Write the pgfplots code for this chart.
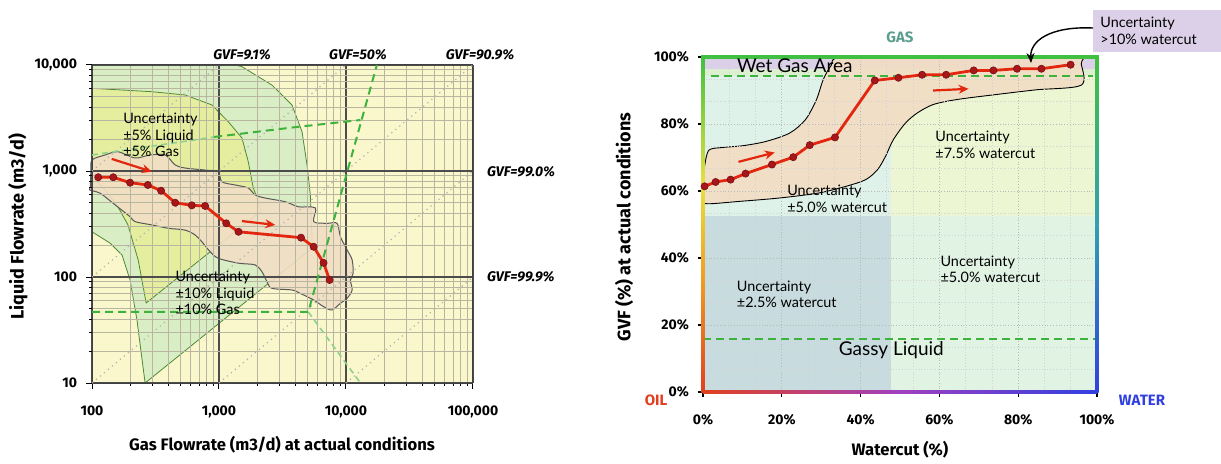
\documentclass[border=0pt]{standalone}
\usepackage{pgfplots}
\pgfplotsset{compat=1.18}
\usepackage{fontspec}
\setmainfont{Lato}
\newfontfamily\heavy{Fira Sans}
\usetikzlibrary{arrows.meta}

\definecolor{bgy}{HTML}{FAF7CC}
\definecolor{og}{HTML}{D9EEC4}
\definecolor{ig}{HTML}{E4EE9E}
\definecolor{tanb}{HTML}{F2DEC4}
\definecolor{gridg}{HTML}{B8B6A0}
\definecolor{redl}{HTML}{E3260E}
\definecolor{redm}{HTML}{A8161A}
\definecolor{dgreen}{HTML}{3DB23D}
\definecolor{lgreen}{HTML}{8FD08F}
\definecolor{edgeg}{HTML}{4E8A34}
\definecolor{regA}{HTML}{C8DCE0}
\definecolor{regB}{HTML}{DEF2EA}
\definecolor{regC}{HTML}{EDF6D3}
\definecolor{regD}{HTML}{E1F4E4}
\definecolor{lav}{HTML}{DCD0E8}
\definecolor{band}{HTML}{DCEFD0}
\definecolor{bred}{HTML}{E04020}
\definecolor{borange}{HTML}{F0A020}
\definecolor{byellow}{HTML}{E8E040}
\definecolor{bgreen}{HTML}{40C040}
\definecolor{bteal}{HTML}{30A0B0}
\definecolor{bblue}{HTML}{3040E0}
\definecolor{bpurple}{HTML}{A040C0}
\definecolor{gastxt}{HTML}{5A9E8E}

\newcommand\tl{\heavy\bfseries\fontsize{7}{8}\selectfont}
\newcommand\ann{\fontsize{7.2}{8.3}\selectfont}
\newcommand\lab{\heavy\bfseries\fontsize{8.3}{9}\selectfont}
\newcommand\ylab{\heavy\bfseries\fontsize{9}{10}\selectfont}

\begin{document}
\begin{tikzpicture}[x=0.5pt,y=0.5pt]

% ---------------- LEFT CHART ----------------
\begin{axis}[
  at={(46pt,40pt)}, anchor=south west, scale only axis,
  width=190.5pt, height=159pt,
  xmode=log, ymode=log, xmin=100, xmax=100000, ymin=10, ymax=10000,
  set layers,
  grid=both,
  major grid style={draw=black!70, line width=0.55pt},
  minor grid style={draw=gridg, line width=0.45pt},
  xtick={100,1000,10000,100000}, xticklabels={100,{1,000},{10,000},{100,000}},
  ytick={10,100,1000,10000}, yticklabels={10,100,{1,000},{10,000}},
  tick pos=left, tick align=outside,
  major tick length=3pt, minor tick length=1.5pt,
  tick style={black, line width=0.5pt},
  axis line style={black!75, line width=0.5pt},
  ticklabel style={font=\tl},
  xticklabel style={yshift=-5pt},
  yticklabel style={xshift=-1pt},
  /pgf/number format/assume math mode=true,
]
\addplot[draw=none, fill=bgy, on layer=axis background] coordinates {(100,10)(100000,10)(100000,10000)(100,10000)};
% outer +-10% region
\addplot[draw=edgeg, line width=0.4pt, fill=og, on layer=axis background] coordinates {
(100,10000)(1343,10000)(1517,9638)(2612,6471)(3756,4198)(4508,2350)(4933,1140)(5240,594)(5433,188)
(262,10)(248,16.5)(226,39.3)(199.5,93.7)(172.5,161)(138.6,209)(100,267)(100,10000)};
% inner +-5% region
\addplot[draw=edgeg, line width=0.4pt, fill=ig, on layer=axis background] coordinates {
(100,6026)(296,5598)(541,5212)(879,4198)(1183,2917)(1517,2046)(1700,1225)(1862,692)(2000,556)(2153,420)
(267,56.9)(231,145)(192,310)(160,460)(127,662)(100,884)(100,6026)};
% blob
\addplot[smooth, tension=0.5, draw=black!65, line width=0.5pt, fill=tanb, fill opacity=0.9, on layer=axis background] coordinates {
(97,700)(98,1000)(100,1270)(127,1416)(160,1521)(218,1327)(287,1416)(377,1416)(452,1140)(541,1067)
(778,1021)(986,985)(1054,792)(1343,738)(1698,692)(1928,594)(2311,556)(3325,513)(4217,460)(5745,448)
(5560,333)(7100,321)(8510,321)(9040,240)(10210,180)(11180,145)(11380,108)(10830,93.7)(11180,75.4)
(10210,63)(9040,56.5)(7760,48.9)(6660,52.5)(5560,60.7)(4365,70)(3760,75.4)(2612,78.2)(2387,90.3)
(2180,112)(1928,130)(1425,135)(991,150)(853,173)(733,215)(649,249)(541,277)(400,288)(296,310)
(218,333)(199,371)(147,495)(116,617)(96,662)(97,700)};
% GVF dotted lines
\addplot[gray!60, dotted, line width=0.6pt] coordinates {(100,1000)(1000,10000)};
\addplot[gray!60, dotted, line width=0.6pt] coordinates {(100,100)(10000,10000)};
\addplot[gray!60, dotted, line width=0.6pt] coordinates {(100,10)(100000,10000)};
\addplot[gray!60, dotted, line width=0.6pt] coordinates {(1000,10)(100000,1000)};
\addplot[gray!60, dotted, line width=0.6pt] coordinates {(10000,10)(100000,100)};
% green dashed lines
\addplot[lgreen, line width=0.8pt, dash pattern=on 3pt off 2pt] coordinates {(5047,46.8)(13000,10)};
\addplot[lgreen, line width=0.8pt, dash pattern=on 3pt off 2pt] coordinates {(100,1416)(916,2094)};
\addplot[dgreen, line width=1pt, dash pattern=on 4pt off 2.5pt] coordinates {(916,2094)(4064,2600)(13000,3027)};
\addplot[dgreen, line width=1pt, dash pattern=on 4pt off 2.5pt] coordinates {(100,46.8)(5047,46.8)(17500,10000)};
% red arrows
\addplot[redl, line width=1.1pt, -{Stealth[length=5pt,width=4.5pt]}] coordinates {(143,1300)(296,985)};
\addplot[redl, line width=1.1pt, -{Stealth[length=5pt,width=4.5pt]}] coordinates {(1517,337)(2773,310)};
% data
\addplot[redl, line width=1.4pt, mark=*, mark size=1.8pt, mark options={fill=redm, draw=redm!70!black, line width=0.3pt}] coordinates {
(112,873)(147,873)(199.5,776)(275,738)(350,652)(452,502)(611,474)(778,468)(1140,321)(1425,267)
(4427,235)(5560,193)(6660,136)(7430,93.7)};
\node[anchor=west, align=left, font=\ann, inner sep=0] at (axis cs:175,2188) {Uncertainty\\±5\% Liquid\\±5\% Gas};
\node[anchor=west, align=left, font=\ann, inner sep=0] at (axis cs:452,70.6) {Uncertainty\\±10\% Liquid\\±10\% Gas};
\end{axis}

\node[rotate=90, font=\ylab] at (18,236) {Liquid Flowrate (m3/d)};
\node[font=\lab] at (282,18) {Gas Flowrate (m3/d) at actual conditions};
\node[font=\heavy\bfseries\itshape\fontsize{7}{8}\selectfont] at (242,408) {GVF=9.1\%};
\node[font=\heavy\bfseries\itshape\fontsize{7}{8}\selectfont] at (358,408) {GVF=50\%};
\node[font=\heavy\bfseries\itshape\fontsize{7}{8}\selectfont] at (480,408) {GVF=90.9\%};
\node[anchor=west, font=\heavy\bfseries\itshape\fontsize{7}{8}\selectfont] at (480,291) {GVF=99.0\%};
\node[anchor=west, font=\heavy\bfseries\itshape\fontsize{7}{8}\selectfont] at (480,186) {GVF=99.9\%};

% ---------------- RIGHT CHART ----------------
\begin{axis}[
  at={(351.5pt,35.5pt)}, anchor=south west, scale only axis,
  width=197pt, height=167.5pt,
  xmin=0, xmax=100, ymin=0, ymax=100,
  set layers, clip=false,
  xtick={0,20,40,60,80,100}, xticklabels={0\%,20\%,40\%,60\%,80\%,100\%},
  ytick={0,20,40,60,80,100}, yticklabels={0\%,20\%,40\%,60\%,80\%,100\%},
  minor tick num=2, grid=both,
  major grid style={densely dotted, draw=gray!55, line width=0.5pt},
  minor grid style={densely dotted, draw=gray!35, line width=0.4pt},
  axis line style={draw=none},
  tick pos=left, tick align=outside,
  major tick length=2.5pt, minor tick length=0pt,
  tick style={black, line width=0.6pt},
  ticklabel style={font=\tl},
  xticklabel style={yshift=-5pt},
  yticklabel style={xshift=-1pt},
  /pgf/number format/assume math mode=true,
]
\addplot[draw=none, fill=regA, on layer=axis background] coordinates {(0,0)(47.6,0)(47.6,52.6)(0,52.6)};
\addplot[draw=none, fill=regB, on layer=axis background] coordinates {(0,52.6)(47.6,52.6)(47.6,94.2)(0,94.2)};
\addplot[draw=none, fill=regC, on layer=axis background] coordinates {(47.6,52.6)(100,52.6)(100,94.2)(47.6,94.2)};
\addplot[draw=none, fill=regD, on layer=axis background] coordinates {(47.6,0)(100,0)(100,52.6)(47.6,52.6)};
\addplot[draw=none, fill=band, on layer=axis background] coordinates {(0,94.2)(100,94.2)(100,96.5)(0,96.5)};
\addplot[draw=none, fill=lav, on layer=axis background] coordinates {(0,96.5)(100,96.5)(100,100)(0,100)};
% blob
\addplot[smooth, tension=0.5, draw=black, line width=0.45pt, fill=tanb, fill opacity=0.92, on layer=axis background] coordinates {
(0.5,68)(1.5,72.2)(5,73)(10,73.5)(16,74.8)(22,77.3)(26,81.3)(28.8,87.3)(30.5,93.2)(32.5,97.4)(35.5,100)
(60,100.3)(81,100.4)(95.5,100.2)(96,98)(96,91.6)(84.5,90.2)(74.4,88.8)(64.4,87.3)(58.4,85.8)(54.4,83.3)
(51.4,80.3)(48.3,75.3)(46.3,70.3)(44.3,66.4)(41.3,63.4)(36.3,61.4)(29.3,59.4)(19.3,57.9)(9.2,56.9)
(1.2,56.2)(0,57.4)(0,64)(0.5,68)};
% dashed lines
\addplot[dgreen, line width=1pt, dash pattern=on 4pt off 2.5pt] coordinates {(2,94.2)(99,94.2)};
\addplot[dgreen, line width=1pt, dash pattern=on 4pt off 2.5pt] coordinates {(0,15.8)(100,15.8)};
% arrows
\addplot[redl, line width=1.1pt, -{Stealth[length=5pt,width=4.5pt]}] coordinates {(9,68.7)(18.2,71.5)};
\addplot[redl, line width=1.1pt, -{Stealth[length=5pt,width=4.5pt]}] coordinates {(58.4,90)(67.4,90.5)};
% data
\addplot[redl, line width=1.4pt, mark=*, mark size=1.8pt, mark options={fill=redm, draw=redm!70!black, line width=0.3pt}] coordinates {
(0.4,61.4)(3.2,62.7)(7.0,63.4)(10.8,65.2)(17.5,67.9)(22.9,70.1)(27.1,73.7)(33.5,76.0)(43.6,93.0)
(49.6,93.8)(55.6,94.7)(61.7,94.7)(68.7,96.0)(73.7,96.0)(79.7,96.5)(85.9,96.5)(93.3,97.7)};
% coloured frame
\shade[bottom color=bred, top color=borange] (axis cs:-0.4,0) rectangle (axis cs:0.4,35);
\shade[bottom color=borange, top color=byellow] (axis cs:-0.4,35) rectangle (axis cs:0.4,62);
\shade[bottom color=byellow, top color=bgreen] (axis cs:-0.4,62) rectangle (axis cs:0.4,100);
\shade[bottom color=bblue, top color=bteal] (axis cs:99.6,0) rectangle (axis cs:100.4,50);
\shade[bottom color=bteal, top color=bgreen] (axis cs:99.6,50) rectangle (axis cs:100.4,100);
\shade[left color=bred, right color=bpurple] (axis cs:0,-0.45) rectangle (axis cs:50,0.45);
\shade[left color=bpurple, right color=bblue] (axis cs:50,-0.45) rectangle (axis cs:100,0.45);
\fill[bgreen] (axis cs:-0.4,99.55) rectangle (axis cs:100.4,100.45);
% texts
\node[font=\fontsize{9.5}{11}\selectfont] at (axis cs:23.3,97.4) {Wet Gas Area};
\node[font=\fontsize{9.5}{11}\selectfont] at (axis cs:47.8,12.6) {Gassy Liquid};
\node[anchor=west, align=left, font=\ann, inner sep=0] at (axis cs:58.9,73.75) {Uncertainty\\±7.5\% watercut};
\node[anchor=west, align=left, font=\ann, inner sep=0] at (axis cs:21.3,57.6) {Uncertainty\\±5.0\% watercut};
\node[anchor=west, align=left, font=\ann, inner sep=0] at (axis cs:60.2,36.6) {Uncertainty\\±5.0\% watercut};
\node[anchor=west, align=left, font=\ann, inner sep=0] at (axis cs:8.5,29.2) {Uncertainty\\±2.5\% watercut};
\end{axis}

\node[rotate=90, font=\ylab] at (624,236) {GVF (\%) at actual conditions};
\node[font=\lab] at (900,13) {Watercut (\%)};
\node[font=\heavy\bfseries\fontsize{7.5}{8}\selectfont, text=bred] at (656,63) {OIL};
\node[font=\heavy\bfseries\fontsize{7.5}{8}\selectfont, text=bblue] at (1142,63) {WATER};
\node[font=\heavy\bfseries\fontsize{7.5}{8}\selectfont, text=gastxt] at (900,426) {GAS};
\fill[lav] (1093,411) rectangle (1221,453);
\node[anchor=west, align=left, font=\ann, inner sep=0] at (1100,432) {Uncertainty\\>10\% watercut};
\draw[-{Stealth[length=5pt,width=4pt]}, line width=0.7pt] (1093,435) .. controls (1050,437) and (1030,422) .. (1031,400);

\pgfresetboundingbox
\path[use as bounding box] (0,0) rectangle (1221,463);
\end{tikzpicture}
\end{document}
